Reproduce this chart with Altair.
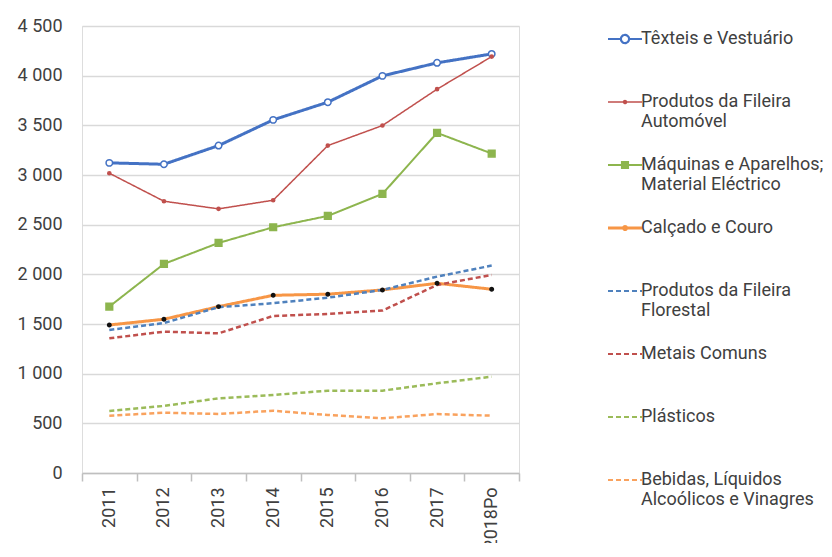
import json
import altair as alt
import pandas as pd

years = ["2011", "2012", "2013", "2014", "2015", "2016", "2017", "2018Po"]

series = [
    "Têxteis e Vestuário",
    "Produtos da Fileira Automóvel",
    "Máquinas e Aparelhos; Material Eléctrico",
    "Calçado e Couro",
    "Produtos da Fileira Florestal",
    "Metais Comuns",
    "Plásticos",
    "Bebidas, Líquidos Alcoólicos e Vinagres",
]

textil = [3122, 3108, 3296, 3555, 3733, 3998, 4129, 4219]
automovel = [3018, 2736, 2659, 2746, 3296, 3498, 3864, 4192]
maquinas = [1675, 2105, 2316, 2474, 2588, 2810, 3424, 3216]
calcado = [1490, 1548, 1675, 1789, 1800, 1843, 1910, 1850]
florestal = [1440, 1510, 1669, 1709, 1765, 1843, 1977, 2088]
metais = [1356, 1423, 1406, 1581, 1601, 1635, 1893, 1994]
plasticos = [624, 675, 752, 785, 829, 829, 903, 970]
bebidas = [577, 607, 594, 627, 584, 551, 594, 577]

values = [textil, automovel, maquinas, calcado, florestal, metais, plasticos, bebidas]

legend_lines = {
    "Têxteis e Vestuário": ["Têxteis e Vestuário", ""],
    "Produtos da Fileira Automóvel": ["Produtos da Fileira", "Automóvel"],
    "Máquinas e Aparelhos; Material Eléctrico": ["Máquinas e Aparelhos;", "Material Eléctrico"],
    "Calçado e Couro": ["Calçado e Couro", ""],
    "Produtos da Fileira Florestal": ["Produtos da Fileira", "Florestal"],
    "Metais Comuns": ["Metais Comuns", ""],
    "Plásticos": ["Plásticos", ""],
    "Bebidas, Líquidos Alcoólicos e Vinagres": ["Bebidas, Líquidos", "Alcoólicos e Vinagres"],
}

rows = []
for s, vals in zip(series, values):
    for y, v in zip(years, vals):
        rows.append({"ano": y, "serie": s, "valor": v})
df = pd.DataFrame(rows)

colors = ["#4472C4", "#C0504D", "#8DB54E", "#F79646",
          "#4F81BD", "#C0504D", "#9BBB59", "#F9A25E"]
dashes = [[1, 0]] * 4 + [[5, 3]] * 4
widths = [3, 1.5, 2, 3, 2.5, 2.5, 2.5, 2.5]

marked = series[:4]
m_shapes = ["circle", "circle", "square", "circle"]
m_fill = ["white", "#C0504D", "#8DB54E", "#111111"]
m_stroke = ["#4472C4", "#C0504D", "#8DB54E", "#111111"]
m_size = [42, 10, 45, 12]

# legend symbol paths (line + marker)
leg_shapes = {
    series[0]: "M-1,0H-0.24M0.24,0H1M0.24,0A0.24,0.24,0,1,1,-0.24,0A0.24,0.24,0,1,1,0.24,0Z",
    series[1]: "M-1,0H1M0.09,0A0.09,0.09,0,1,1,-0.09,0A0.09,0.09,0,1,1,0.09,0Z",
    series[2]: "M-1,0H1M-0.18,-0.18H0.18V0.18H-0.18Z",
    series[3]: "M-1,0H1M0.09,0A0.09,0.09,0,1,1,-0.09,0A0.09,0.09,0,1,1,0.09,0Z",
}
leg_fill = {series[0]: "white", series[1]: "#C0504D", series[2]: "#8DB54E", series[3]: "#111111"}
leg_sw = {series[0]: 2.2, series[1]: 1.5, series[2]: 2, series[3]: 3}
leg_dash = {s: [1, 0] for s in marked}


def cond_expr(mapping, default):
    expr = json.dumps(default, ensure_ascii=False)
    for k, v in reversed(list(mapping.items())):
        expr = f"datum.value == {json.dumps(k, ensure_ascii=False)} ? {json.dumps(v, ensure_ascii=False)} : " + expr
    return expr


label_expr = "[datum.label, '']"
for k, v in reversed(list(legend_lines.items())):
    label_expr = f"datum.label == {json.dumps(k, ensure_ascii=False)} ? {json.dumps(v, ensure_ascii=False)} : " + label_expr

FONT = "Roboto"
TXT = "#404040"

x_enc = alt.X(
    "ano:O",
    sort=years,
    title=None,
    scale=alt.Scale(type="band", paddingInner=0, paddingOuter=0),
    axis=alt.Axis(
        labelAngle=-90,
        tickBand="extent",
        ticks=True,
        tickSize=8,
        tickColor="#BFBFBF",
        tickWidth=1.5,
        domainColor="#BFBFBF",
        domainWidth=1.5,
        labelFontSize=18,
        labelFont=FONT,
        labelColor=TXT,
        labelPadding=6,
        grid=False,
    ),
)
y_enc = alt.Y(
    "valor:Q",
    title=None,
    scale=alt.Scale(domain=[0, 4500], nice=False),
    axis=alt.Axis(
        values=list(range(0, 4501, 500)),
        labelExpr="replace(format(datum.value, ','), ',', ' ')",
        domain=False,
        ticks=False,
        gridColor="#D9D9D9",
        gridWidth=1.5,
        labelFontSize=18,
        labelFont=FONT,
        labelColor=TXT,
        labelPadding=20,
    ),
)

lines = alt.Chart(df).mark_line().encode(
    x=x_enc,
    y=y_enc,
    color=alt.Color(
        "serie:N",
        scale=alt.Scale(domain=series, range=colors),
        title=None,
        legend=alt.Legend(
            orient="none",
            legendX=534,
            legendY=4,
            symbolSize=1156,
            symbolType=alt.ExprRef(expr=cond_expr(leg_shapes, "stroke")),
            symbolFillColor=alt.ExprRef(expr=cond_expr(leg_fill, "transparent")),
            symbolStrokeWidth=alt.ExprRef(expr=cond_expr(leg_sw, 2.2)),
            symbolDash=alt.ExprRef(expr=cond_expr(leg_dash, [5, 3])),
            labelFont=FONT,
            labelFontSize=18,
            labelColor=TXT,
            labelLimit=400,
            labelOffset=7,
            rowPadding=25,
            labelExpr=label_expr,
            labelBaseline="middle",
        ),
    ),
    strokeDash=alt.StrokeDash(
        "serie:N", scale=alt.Scale(domain=series, range=dashes), title=None
    ),
    strokeWidth=alt.StrokeWidth(
        "serie:N", scale=alt.Scale(type="ordinal", domain=series, range=widths), legend=None
    ),
)

points = alt.Chart(df).transform_filter(
    alt.FieldOneOfPredicate(field="serie", oneOf=marked)
).mark_point(filled=False, opacity=1, strokeWidth=1.5).encode(
    x=x_enc,
    y=y_enc,
    shape=alt.Shape("serie:N", scale=alt.Scale(domain=marked, range=m_shapes), legend=None),
    fill=alt.Fill("serie:N", scale=alt.Scale(domain=marked, range=m_fill), legend=None),
    stroke=alt.Stroke("serie:N", scale=alt.Scale(domain=marked, range=m_stroke), legend=None),
    size=alt.Size("serie:N", scale=alt.Scale(type="ordinal", domain=marked, range=m_size), legend=None),
)

chart = (
    alt.layer(lines, points)
    .resolve_scale(color="independent")
    .properties(
        width=437,
        height=447,
        autosize=alt.AutoSizeParams(type="none"),
        padding={"left": 74, "top": 18, "right": 305, "bottom": 70},
    )
    .configure_view(stroke=None)
    .configure(background="white")
)

chart.save("out.html", embed_options={"renderer": "svg", "actions": False})
